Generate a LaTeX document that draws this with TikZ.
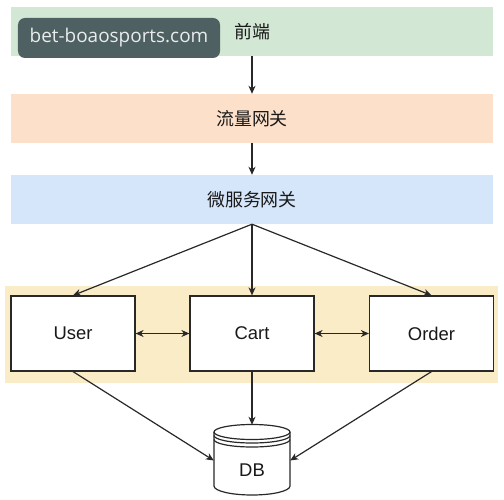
\documentclass[tikz,border=0pt]{standalone}
\usepackage{fontspec}
\setmainfont{Liberation Sans}
\newfontfamily\cjk{Noto Sans CJK SC}
\newfontfamily\wmfont{Open Sans}
\usetikzlibrary{calc,arrows.meta}

\definecolor{bandgreen}{RGB}{211,232,212}
\definecolor{bandorange}{RGB}{253,224,201}
\definecolor{bandblue}{RGB}{214,230,250}
\definecolor{bandyellow}{RGB}{250,236,198}
\definecolor{wmgray}{RGB}{78,96,98}
\definecolor{wmtext}{RGB}{232,236,236}
\definecolor{lineclr}{RGB}{40,40,40}

\begin{document}
\begin{tikzpicture}[x=1bp,y=-1bp,
    band/.style={minimum width=482bp,minimum height=49bp,inner sep=0pt,
        text=black!90,font=\cjk\fontsize{18}{18}\selectfont},
    svc/.style={draw=lineclr,fill=white,line width=1.2pt,minimum width=124bp,
        minimum height=75bp,inner sep=0pt,text=black!90,font=\fontsize{18.5}{18.5}\selectfont},
    link/.style={draw=lineclr,line width=1.2pt,-{Stealth[length=8bp,width=7bp,inset=2.5bp]}},
    both/.style={link,{Stealth[length=8bp,width=7bp,inset=2.5bp]}-{Stealth[length=8bp,width=7bp,inset=2.5bp]}}]

    % 画布
    \useasboundingbox (0,0) rectangle (504,500);
    \fill[white] (0,0) rectangle (504,500);

    % 三层网关
    \node[band,fill=bandgreen] (front) at (252,31.5) {前端};
    \node[band,fill=bandorange] (traffic) at (252,118.5) {流量网关};
    \node[band,fill=bandblue] (gw) at (252,199.5) {微服务网关};

    % 服务层背景
    \fill[bandyellow] (5,286) rectangle (498,383);

    % 服务
    \node[svc] (user) at (73,333.5) {User};
    \node[svc] (cart) at (252,333.5) {Cart};
    \node[svc] (order) at (431.5,333.5) {Order};

    % 数据库
    \node[minimum width=76bp,minimum height=71bp,inner sep=0pt] (db) at (252,460.5) {};
    \filldraw[draw=lineclr,fill=white,line width=1.2pt]
        (214,432) -- (214,486) arc[start angle=180,end angle=0,x radius=38,y radius=9]
        -- (290,432);
    \filldraw[draw=lineclr,fill=white,line width=1.2pt] (252,432) ellipse[x radius=38,y radius=7.5];
    \draw[lineclr,line width=1.2pt] (214,435.5) arc[start angle=180,end angle=0,x radius=38,y radius=7.5];
    \draw[lineclr,line width=1.2pt] (214,439.5) arc[start angle=180,end angle=0,x radius=38,y radius=7.5];
    \node[text=black!90,font=\fontsize{18.5}{18.5}\selectfont] (dblabel) at (252,470) {DB};

    % 调用关系
    \draw[link] (front) -- (traffic);
    \draw[link] (traffic) -- (gw);
    \draw[link] (gw.south) -- (user.north);
    \draw[link] (gw.south) -- (cart.north);
    \draw[link] (gw.south) -- (order.north);
    \draw[both] (user) -- (cart);
    \draw[both] (cart) -- (order);
    \draw[link] (user.south) -- (db.west);
    \draw[link] (cart.south) -- (db.north);
    \draw[link] (order.south) -- (db.east);

    % 水印
    \node[fill=wmgray,rounded corners=7bp,minimum width=202bp,minimum height=40bp,
        inner sep=0pt,text=wmtext,font=\wmfont\fontsize{19}{19}\selectfont] (wm) at (119,38) {bet-boaosports.com};

\end{tikzpicture}
\end{document}
